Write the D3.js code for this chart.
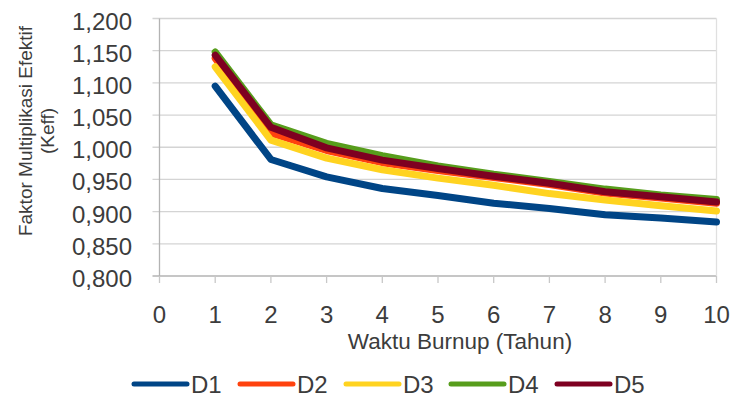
<!DOCTYPE html>
<html>
<head>
    <title>Keff vs Waktu Burnup</title>
    <script src="https://cdn.jsdelivr.net/npm/d3@7/dist/d3.min.js"></script>
    <style>
        body { margin: 0; background: #fff; }
        svg { display: block; }
        text { font-family: "Liberation Sans", Arial, sans-serif; fill: #3c3c3c; }
    </style>
</head>
<body>
    <svg id="chart" width="734" height="400"></svg>

    <script>
        // data
        const years = [1, 2, 3, 4, 5, 6, 7, 8, 9, 10];
        const seriesNames = ["D1", "D2", "D3", "D4", "D5"];
        const d1 = [1.095, 0.981, 0.954, 0.936, 0.925, 0.913, 0.905, 0.895, 0.890, 0.884];
        const d2 = [1.138, 1.022, 0.995, 0.976, 0.964, 0.953, 0.942, 0.929, 0.921, 0.913];
        const d3v = [1.125, 1.011, 0.983, 0.965, 0.952, 0.941, 0.928, 0.918, 0.909, 0.901];
        const d4 = [1.148, 1.035, 1.006, 0.987, 0.971, 0.958, 0.947, 0.935, 0.926, 0.919];
        const d5 = [1.143, 1.031, 0.999, 0.980, 0.967, 0.955, 0.944, 0.931, 0.923, 0.915];
        const colors = ["#004586", "#ff420e", "#ffd320", "#579d1c", "#7e0021"];
        const xTicks = [0, 1, 2, 3, 4, 5, 6, 7, 8, 9, 10];
        const yTicks = [0.80, 0.85, 0.90, 0.95, 1.00, 1.05, 1.10, 1.15, 1.20];

        const allSeries = [d1, d2, d3v, d4, d5];
        const svg = d3.select("#chart");

        const x = d3.scaleLinear().domain([0, 10]).range([159.5, 716.5]);
        const y = d3.scaleLinear().domain([0.8, 1.2]).range([276, 18.5]);
        const fmt = v => d3.format(".3f")(v).replace(".", ",");

        function label(sel, tx, ty, str, size, anchor) {
            return sel.append("text")
                .attr("x", tx).attr("y", ty)
                .attr("text-anchor", anchor)
                .attr("font-size", size)
                .text(str);
        }

        // gridlines
        svg.append("g").selectAll("line")
            .data(yTicks)
            .join("line")
            .attr("x1", x(0) - 7).attr("x2", x(10))
            .attr("y1", d => y(d)).attr("y2", d => y(d))
            .attr("stroke", d => d === 0.8 ? "#b3b3b3" : "#d4d4d4")
            .attr("stroke-width", 1.3);

        // axes lines + ticks
        svg.append("line")
            .attr("x1", x(0)).attr("x2", x(0))
            .attr("y1", y(1.2)).attr("y2", y(0.8))
            .attr("stroke", "#b3b3b3").attr("stroke-width", 1.3);
        svg.append("line")
            .attr("x1", x(10)).attr("x2", x(10))
            .attr("y1", y(1.2)).attr("y2", y(0.8))
            .attr("stroke", "#e0e0e0").attr("stroke-width", 1.3);
        svg.append("g").selectAll("line")
            .data(xTicks)
            .join("line")
            .attr("x1", d => x(d)).attr("x2", d => x(d))
            .attr("y1", y(0.8)).attr("y2", y(0.8) + 7)
            .attr("stroke", "#c8c8c8").attr("stroke-width", 1.3);

        // tick labels
        yTicks.forEach(t => label(svg, 132, y(t) + 11, fmt(t), 24, "end"));
        xTicks.forEach(t => label(svg, x(t), 323, t, 24, "middle"));

        // axis titles
        label(svg, 460, 349, "Waktu Burnup (Tahun)", 22.5, "middle");
        const yt = svg.append("text")
            .attr("transform", "translate(32,131) rotate(-90)")
            .attr("text-anchor", "middle")
            .attr("font-size", 19);
        yt.append("tspan").attr("x", 0).attr("dy", 0).text("Faktor Multiplikasi Efektif");
        yt.append("tspan").attr("x", 0).attr("dy", 22).text("(Keff)");

        // lines
        const line = d3.line()
            .x((d, i) => x(years[i]))
            .y(d => y(d));
        svg.append("g").selectAll("path")
            .data(allSeries)
            .join("path")
            .attr("d", line)
            .attr("fill", "none")
            .attr("stroke", (d, i) => colors[i])
            .attr("stroke-width", 7)
            .attr("stroke-linejoin", "round")
            .attr("stroke-linecap", "round");

        // legend
        const legX = [134, 240, 346, 451, 557];
        const leg = svg.append("g").selectAll("g")
            .data(seriesNames)
            .join("g")
            .attr("transform", (d, i) => `translate(${legX[i]},384)`);
        leg.append("line")
            .attr("x1", 0).attr("x2", 53)
            .attr("stroke", (d, i) => colors[i])
            .attr("stroke-width", 5)
            .attr("stroke-linecap", "round");
        leg.each(function (d) {
            label(d3.select(this), 57, 9, d, 24, "start");
        });
    </script>
</body>
</html>
